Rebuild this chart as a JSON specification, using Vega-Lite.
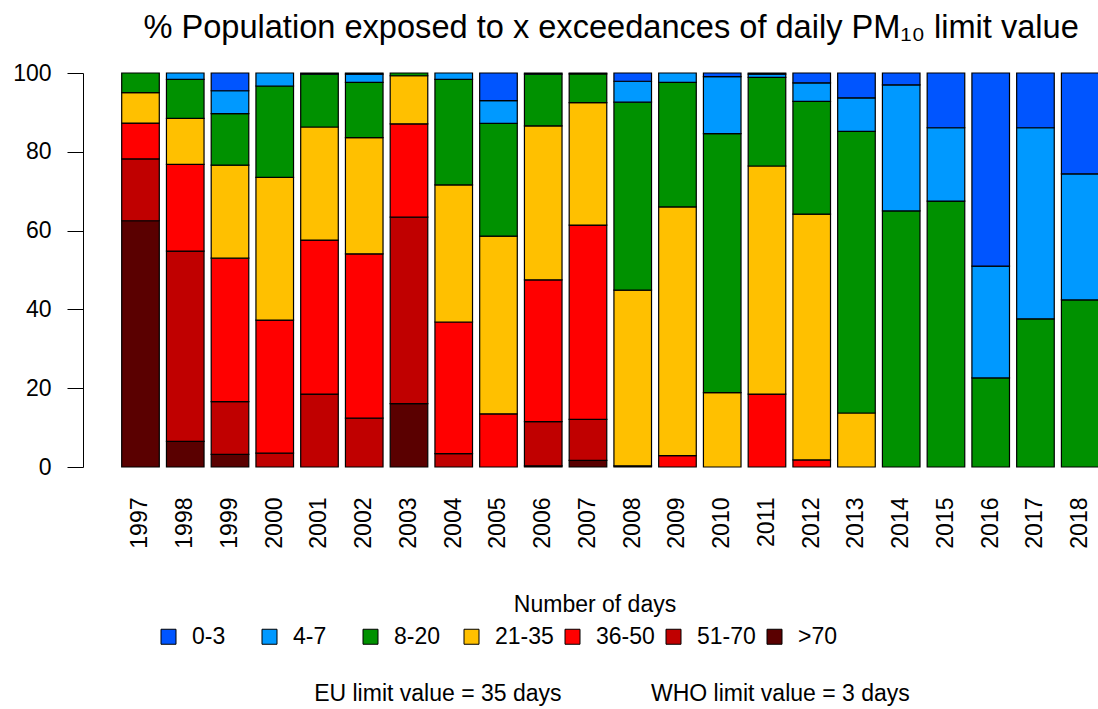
{
  "$schema": "https://vega.github.io/schema/vega-lite/v6.json",
  "background": "white",
  "padding": {"left": 12, "top": 12, "right": 0, "bottom": 0},
  "config": {
    "font": "Liberation Sans",
    "view": {"stroke": null},
    "axis": {"labelColor": "black", "labelFont": "Liberation Sans", "labelFontSize": 23}
  },
  "datasets": {
    "cats": [
      {"days": "0-3", "rank": 0},
      {"days": "4-7", "rank": 1},
      {"days": "8-20", "rank": 2},
      {"days": "21-35", "rank": 3},
      {"days": "36-50", "rank": 4},
      {"days": "51-70", "rank": 5},
      {"days": ">70", "rank": 6}
    ]
  },
  "title": {
    "text": "% Population exposed to x exceedances of daily PM₁₀ limit value",
    "fontSize": 32.6, "fontWeight": "normal", "color": "black", "font": "Liberation Sans",
    "anchor": "middle", "offset": 17, "dx": 55
  },
  "resolve": {"scale": {"color": "independent"}, "legend": {"color": "independent"}},
  "vconcat": [
    {
      "width": 998,
      "height": 394,
      "title": {
        "text": "EU limit value = 35 days\u00a0\u00a0\u00a0\u00a0\u00a0\u00a0\u00a0\u00a0\u00a0\u00a0\u00a0\u00a0\u00a0\u00a0WHO limit value = 3 days",
        "orient": "bottom", "anchor": "middle", "frame": "group",
        "fontSize": 23, "fontWeight": "normal", "color": "black", "font": "Liberation Sans",
        "offset": 34, "dx": 12
      },
      "data": {
        "values": [
          {"year": 1997, "days": ">70", "pct": 62.5},
          {"year": 1997, "days": "51-70", "pct": 15.7},
          {"year": 1997, "days": "36-50", "pct": 9.1},
          {"year": 1997, "days": "21-35", "pct": 7.7},
          {"year": 1997, "days": "8-20", "pct": 5.0},
          {"year": 1998, "days": ">70", "pct": 6.5},
          {"year": 1998, "days": "51-70", "pct": 48.3},
          {"year": 1998, "days": "36-50", "pct": 22.0},
          {"year": 1998, "days": "21-35", "pct": 11.7},
          {"year": 1998, "days": "8-20", "pct": 9.9},
          {"year": 1998, "days": "4-7", "pct": 1.6},
          {"year": 1999, "days": ">70", "pct": 3.2},
          {"year": 1999, "days": "51-70", "pct": 13.4},
          {"year": 1999, "days": "36-50", "pct": 36.4},
          {"year": 1999, "days": "21-35", "pct": 23.6},
          {"year": 1999, "days": "8-20", "pct": 13.1},
          {"year": 1999, "days": "4-7", "pct": 5.8},
          {"year": 1999, "days": "0-3", "pct": 4.5},
          {"year": 2000, "days": "51-70", "pct": 3.5},
          {"year": 2000, "days": "36-50", "pct": 33.8},
          {"year": 2000, "days": "21-35", "pct": 36.2},
          {"year": 2000, "days": "8-20", "pct": 23.2},
          {"year": 2000, "days": "4-7", "pct": 3.3},
          {"year": 2001, "days": "51-70", "pct": 18.5},
          {"year": 2001, "days": "36-50", "pct": 39.1},
          {"year": 2001, "days": "21-35", "pct": 28.7},
          {"year": 2001, "days": "8-20", "pct": 13.4},
          {"year": 2001, "days": "4-7", "pct": 0.3},
          {"year": 2002, "days": "51-70", "pct": 12.4},
          {"year": 2002, "days": "36-50", "pct": 41.7},
          {"year": 2002, "days": "21-35", "pct": 29.5},
          {"year": 2002, "days": "8-20", "pct": 14.0},
          {"year": 2002, "days": "4-7", "pct": 2.1},
          {"year": 2002, "days": "0-3", "pct": 0.3},
          {"year": 2003, "days": ">70", "pct": 16.1},
          {"year": 2003, "days": "51-70", "pct": 47.3},
          {"year": 2003, "days": "36-50", "pct": 23.7},
          {"year": 2003, "days": "21-35", "pct": 12.2},
          {"year": 2003, "days": "8-20", "pct": 0.7},
          {"year": 2004, "days": "51-70", "pct": 3.4},
          {"year": 2004, "days": "36-50", "pct": 33.4},
          {"year": 2004, "days": "21-35", "pct": 34.8},
          {"year": 2004, "days": "8-20", "pct": 26.8},
          {"year": 2004, "days": "4-7", "pct": 1.6},
          {"year": 2005, "days": "36-50", "pct": 13.5},
          {"year": 2005, "days": "21-35", "pct": 45.1},
          {"year": 2005, "days": "8-20", "pct": 28.6},
          {"year": 2005, "days": "4-7", "pct": 5.8},
          {"year": 2005, "days": "0-3", "pct": 7.0},
          {"year": 2006, "days": ">70", "pct": 0.3},
          {"year": 2006, "days": "51-70", "pct": 11.2},
          {"year": 2006, "days": "36-50", "pct": 36.0},
          {"year": 2006, "days": "21-35", "pct": 39.1},
          {"year": 2006, "days": "8-20", "pct": 13.1},
          {"year": 2006, "days": "4-7", "pct": 0.3},
          {"year": 2007, "days": ">70", "pct": 1.7},
          {"year": 2007, "days": "51-70", "pct": 10.4},
          {"year": 2007, "days": "36-50", "pct": 49.3},
          {"year": 2007, "days": "21-35", "pct": 31.1},
          {"year": 2007, "days": "8-20", "pct": 7.3},
          {"year": 2007, "days": "4-7", "pct": 0.2},
          {"year": 2008, "days": "36-50", "pct": 0.3},
          {"year": 2008, "days": "21-35", "pct": 44.6},
          {"year": 2008, "days": "8-20", "pct": 47.7},
          {"year": 2008, "days": "4-7", "pct": 5.3},
          {"year": 2008, "days": "0-3", "pct": 2.1},
          {"year": 2009, "days": "36-50", "pct": 2.9},
          {"year": 2009, "days": "21-35", "pct": 63.1},
          {"year": 2009, "days": "8-20", "pct": 31.6},
          {"year": 2009, "days": "4-7", "pct": 2.4},
          {"year": 2010, "days": "21-35", "pct": 18.9},
          {"year": 2010, "days": "8-20", "pct": 65.7},
          {"year": 2010, "days": "4-7", "pct": 14.5},
          {"year": 2010, "days": "0-3", "pct": 0.9},
          {"year": 2011, "days": "36-50", "pct": 18.5},
          {"year": 2011, "days": "21-35", "pct": 57.9},
          {"year": 2011, "days": "8-20", "pct": 22.5},
          {"year": 2011, "days": "4-7", "pct": 0.8},
          {"year": 2011, "days": "0-3", "pct": 0.3},
          {"year": 2012, "days": "36-50", "pct": 1.8},
          {"year": 2012, "days": "21-35", "pct": 62.4},
          {"year": 2012, "days": "8-20", "pct": 28.6},
          {"year": 2012, "days": "4-7", "pct": 4.7},
          {"year": 2012, "days": "0-3", "pct": 2.5},
          {"year": 2013, "days": "21-35", "pct": 13.7},
          {"year": 2013, "days": "8-20", "pct": 71.5},
          {"year": 2013, "days": "4-7", "pct": 8.5},
          {"year": 2013, "days": "0-3", "pct": 6.3},
          {"year": 2014, "days": "8-20", "pct": 65.0},
          {"year": 2014, "days": "4-7", "pct": 32.0},
          {"year": 2014, "days": "0-3", "pct": 3.0},
          {"year": 2015, "days": "8-20", "pct": 67.5},
          {"year": 2015, "days": "4-7", "pct": 18.6},
          {"year": 2015, "days": "0-3", "pct": 13.9},
          {"year": 2016, "days": "8-20", "pct": 22.6},
          {"year": 2016, "days": "4-7", "pct": 28.4},
          {"year": 2016, "days": "0-3", "pct": 49.0},
          {"year": 2017, "days": "8-20", "pct": 37.6},
          {"year": 2017, "days": "4-7", "pct": 48.5},
          {"year": 2017, "days": "0-3", "pct": 13.9},
          {"year": 2018, "days": "8-20", "pct": 42.4},
          {"year": 2018, "days": "4-7", "pct": 32.0},
          {"year": 2018, "days": "0-3", "pct": 25.6}
        ]
      },
      "transform": [
        {"lookup": "days", "from": {"data": {"name": "cats"}, "key": "days", "fields": ["rank"]}}
      ],
      "mark": {"type": "bar", "stroke": "black", "strokeWidth": 1.2},
      "encoding": {
        "x": {
          "field": "year", "type": "ordinal",
          "scale": {"paddingInner": 0.16, "paddingOuter": 0.2313, "align": 1},
          "axis": {"title": null, "labelAngle": -90, "domain": false, "ticks": false, "tickSize": 0, "labelPadding": 30, "labelFontSize": 23}
        },
        "y": {
          "field": "pct", "type": "quantitative", "stack": "zero",
          "scale": {"domain": [0, 100], "nice": false},
          "axis": {"title": null, "values": [0, 20, 40, 60, 80, 100], "grid": false, "domainColor": "black", "domainWidth": 1, "tickColor": "black", "tickSize": 16, "tickWidth": 1, "labelPadding": 16, "offset": 18, "labelFontSize": 23}
        },
        "order": {"field": "rank", "type": "quantitative", "sort": "descending"},
        "color": {
          "field": "days", "type": "nominal",
          "sort": ["0-3", "4-7", "8-20", "21-35", "36-50", "51-70", ">70"],
          "scale": {
            "domain": ["0-3", "4-7", "8-20", "21-35", "36-50", "51-70", ">70"],
            "range": ["#0055FF", "#0099FF", "#009100", "#FFC000", "#FF0000", "#C00000", "#5A0000"]
          },
          "legend": {
            "orient": "none", "legendX": 56, "legendY": 521,
            "direction": "horizontal", "columns": 7, "gridAlign": "all",
            "title": "Number of days", "titleFontSize": 23, "titleFontWeight": "normal", "titleColor": "black",
            "titleAnchor": "middle", "titlePadding": 8,
            "labelFontSize": 23, "labelColor": "black", "labelOffset": 12,
            "symbolType": "square", "symbolSize": 225, "symbolStrokeColor": "black", "symbolStrokeWidth": 1, "symbolOpacity": 1,
            "columnPadding": 7, "padding": 0,
            "encode": {"title": {"update": {"dx": {"value": 98}}}}
          }
        }
      }
    }
  ]
}
